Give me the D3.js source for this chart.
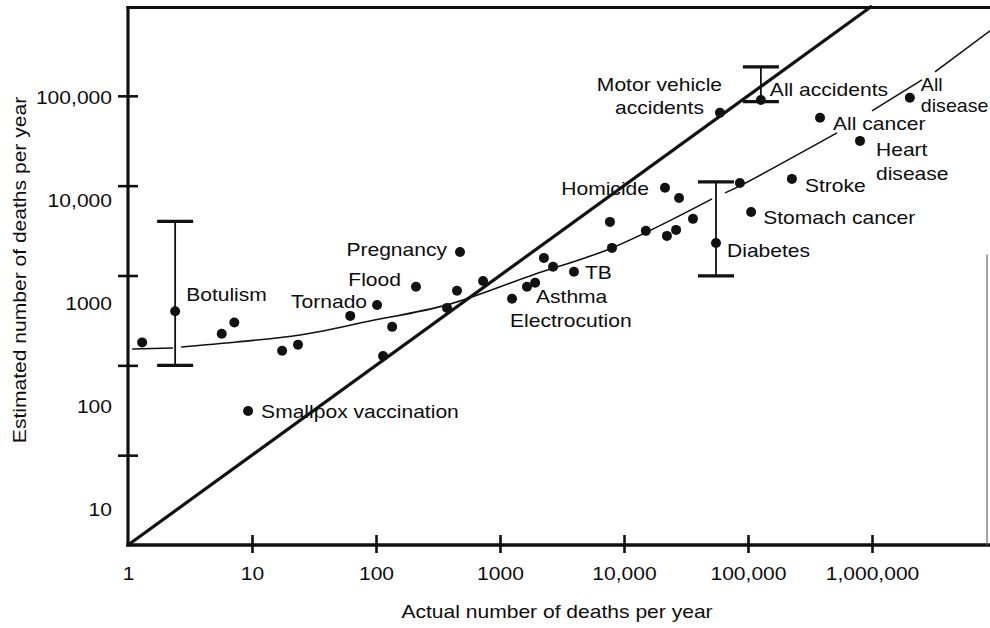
<!DOCTYPE html>
<html>
<head>
<meta charset="utf-8">
<script src="https://cdn.jsdelivr.net/npm/d3@7"></script>
<style>
  body { margin: 0; background: #fff; }
  text { font-family: "Liberation Sans", Arial, Helvetica, sans-serif; font-size: 18px; fill: #0d0d0d; }
</style>
</head>
<body>
<div id="chart"></div>
<script>
// Data (actual vs estimated deaths per year)
var riskNames = ["", "Botulism", "", "", "Smallpox vaccination", "", "", "", "Tornado", "", "",
    "Flood", "Pregnancy", "", "", "", "Electrocution", "Asthma", "", "", "", "TB", "", "", "",
    "Homicide", "", "", "", "", "Diabetes", "", "Motor vehicle\naccidents", "All accidents",
    "Stomach cancer", "Stroke", "All cancer", "Heart\ndisease", "All\ndisease"];
var actualDeaths = [1.3, 2.4, 5.7, 7.2, 9.3, 17.5, 23.5, 62, 102, 135, 114,
    210, 476, 374, 450, 730, 1250, 1650, 1920, 2260, 2680, 3950, 7700, 8000, 15000,
    21400, 27800, 22200, 26300, 36000, 55200, 86000, 59400, 127000,
    106000, 226000, 381000, 800000, 2020000];
var estimatedDeaths = [180, 400, 225, 300, 31, 145, 170, 355, 470, 268, 127,
    750, 1830, 436, 675, 870, 550, 750, 830, 1570, 1250, 1100, 3950, 2030, 3140,
    9460, 7300, 2760, 3220, 4270, 2300, 10700, 64700, 90000,
    5100, 11900, 56900, 31500, 95000];

// ranges of the estimates for three risks
var barRisks = ["Botulism", "Diabetes", "All accidents"];
var barLow = [100, 990, 86000];
var barHigh = [4000, 11000, 210000];

var curveActual = [1.08, 2.31, null, 2.68, 7.57, 24.4, 89.5, 374, 1746, 8000, 51300, null,
    65300, 86100, 522000, null, 1000000, 2530000, null, 3220000, 8950000];
var curveEstimated = [152, 156, null, 160, 182, 218, 312, 471, 990, 2029, 7130, null,
    8310, 9950, 38700, null, 68100, 150700, null, 185000, 530000];

var xTicks = [1, 10, 100, 1000, 10000, 100000, 1000000];
var yTicks = [10, 100, 1000, 10000, 100000];

// label placement next to the points (pixel offsets, anchor, line height, width scale)
var labelLayout = {
    "Botulism": [11, -10.5, "start"],
    "Smallpox vaccination": [13, 6.5, "start"],
    "Tornado": [-10, 3.5, "end"],
    "Flood": [-15, -1, "end"],
    "Pregnancy": [-13, 4, "end"],
    "Electrocution": [-2, 28, "start"],
    "Asthma": [9, 16.5, "start"],
    "TB": [11, 7.5, "start"],
    "Homicide": [-16, 7, "end"],
    "Diabetes": [11, 14, "start"],
    "Motor vehicle\naccidents": [-60.5, -21.5, "middle", 22.5],
    "All accidents": [9, -3.5, "start"],
    "Stomach cancer": [12, 12, "start"],
    "Stroke": [13, 13, "start"],
    "All cancer": [13, 12.5, "start"],
    "Heart\ndisease": [16, 15.5, "start", 24],
    "All\ndisease": [11, -7, "start", 21, 1.09]
};

var svgWidth = 990;
var svgHeight = 628;
var SX = 1.17; // the scanned lettering is wider than Arial

var svg = d3.select("#chart")
    .append("svg")
    .attr("width", svgWidth)
    .attr("height", svgHeight);

var xScale = d3.scaleLog().domain([1, 1e6]).range([128, 872]);
var yScale = d3.scaleLog().domain([1, 1e6]).range([545, 6]);
// the y tick labels sit apart from the tick marks in the original
var yLabelScale = d3.scaleLog().domain([10, 1e5]).range([510, 97.5]);

var fmt = function (d) { return d === 1000 ? "1000" : d3.format(",")(d); };

var points = actualDeaths.map(function (a, i) {
    return { name: riskNames[i], actual: a, est: estimatedDeaths[i] };
});

// fitted curve
var curvePts = curveActual.map(function (a, i) {
    return a === null ? null : { actual: a, est: curveEstimated[i] };
});
var curveLine = d3.line()
    .defined(function (d) { return d !== null; })
    .x(function (d) { return xScale(d.actual); })
    .y(function (d) { return yScale(d.est); })
    .curve(d3.curveCatmullRom.alpha(0.5));
svg.append("path")
    .datum(curvePts)
    .attr("d", curveLine)
    .attr("fill", "none")
    .attr("stroke", "#111")
    .attr("stroke-width", 1.6);

// line of perfect estimation
svg.append("line")
    .attr("x1", xScale(1)).attr("y1", yScale(1))
    .attr("x2", xScale(1e6)).attr("y2", yScale(1e6))
    .attr("stroke", "#111")
    .attr("stroke-width", 3.2);

// error bars
var bars = svg.append("g");
barRisks.forEach(function (r, i) {
    var p = points.find(function (d) { return d.name === r; });
    var cx = xScale(p.actual);
    bars.append("line")
        .attr("x1", cx).attr("x2", cx)
        .attr("y1", yScale(barLow[i])).attr("y2", yScale(barHigh[i]))
        .attr("stroke", "#111").attr("stroke-width", 1.8);
    [barLow[i], barHigh[i]].forEach(function (v) {
        bars.append("line")
            .attr("x1", cx - 18).attr("x2", cx + 18)
            .attr("y1", yScale(v)).attr("y2", yScale(v))
            .attr("stroke", "#111").attr("stroke-width", 3.2);
    });
});

// dots
svg.append("g")
    .selectAll("circle")
    .data(points)
    .enter()
    .append("circle")
    .attr("cx", function (d) { return xScale(d.actual); })
    .attr("cy", function (d) { return yScale(d.est); })
    .attr("r", 5)
    .attr("fill", "#111");

// labels
var labels = svg.append("g");
points.filter(function (d) { return d.name; }).forEach(function (d) {
    var lay = labelLayout[d.name];
    var t = labels.append("text")
        .attr("transform", "translate(" + (xScale(d.actual) + lay[0]) + "," + (yScale(d.est) + lay[1]) + ") scale(" + (lay[4] || SX) + ",1)")
        .attr("text-anchor", lay[2]);
    d.name.split("\n").forEach(function (s, k) {
        t.append("tspan").attr("x", 0).attr("y", k * (lay[3] || 0)).text(s);
    });
});

// frame
var frame = svg.append("g").attr("stroke", "#111").attr("stroke-linecap", "square");
frame.append("line").attr("x1", 128).attr("x2", 990).attr("y1", 7.5).attr("y2", 7.5).attr("stroke-width", 3);
frame.append("line").attr("x1", 128).attr("x2", 128).attr("y1", 7.5).attr("y2", 545).attr("stroke-width", 3.2);
frame.append("line").attr("x1", 128).attr("x2", 990).attr("y1", 545).attr("y2", 545).attr("stroke-width", 3.4);
frame.append("line").attr("x1", 987).attr("x2", 987).attr("y1", 255).attr("y2", 545)
    .attr("stroke", "#666").attr("stroke-width", 1.2);

// x axis: crossing tick marks
var xTickAxis = svg.append("g")
    .attr("transform", "translate(0,545)")
    .call(d3.axisBottom(xScale).tickValues(xTicks.slice(1)).tickSize(8).tickFormat(""));
xTickAxis.select(".domain").remove();
xTickAxis.selectAll("line").attr("y1", -10).attr("stroke", "#111").attr("stroke-width", 2.6);

var xLabelAxis = svg.append("g")
    .attr("transform", "translate(0,545)")
    .call(d3.axisBottom(xScale).tickValues(xTicks).tickSize(0).tickPadding(22).tickFormat(fmt));
xLabelAxis.select(".domain").remove();
xLabelAxis.selectAll("text")
    .attr("transform", "scale(" + SX + ",1)");

// y axis: crossing tick marks
var yTickAxis = svg.append("g")
    .attr("transform", "translate(128,0)")
    .call(d3.axisLeft(yScale).tickValues(yTicks).tickSize(10).tickFormat(""));
yTickAxis.select(".domain").remove();
yTickAxis.selectAll("line").attr("x1", 10).attr("stroke", "#111").attr("stroke-width", 2.6);

var yLabelAxis = svg.append("g")
    .attr("transform", "translate(128,0)")
    .call(d3.axisLeft(yLabelScale).tickValues(yTicks).tickSize(0).tickFormat(fmt));
yLabelAxis.select(".domain").remove();
yLabelAxis.selectAll("text")
    .attr("x", -16 / SX)
    .attr("transform", "scale(" + SX + ",1)");

svg.selectAll(".tick text").attr("fill", "#0d0d0d").attr("font-size", null).attr("font-family", null);

// axis titles
svg.append("text")
    .attr("transform", "translate(557,618) scale(" + SX + ",1)")
    .attr("text-anchor", "middle")
    .text("Actual number of deaths per year");

svg.append("text")
    .attr("transform", "translate(26,270) rotate(-90) scale(" + SX + ",1)")
    .attr("text-anchor", "middle")
    .text("Estimated number of deaths per year");
</script>
</body>
</html>
